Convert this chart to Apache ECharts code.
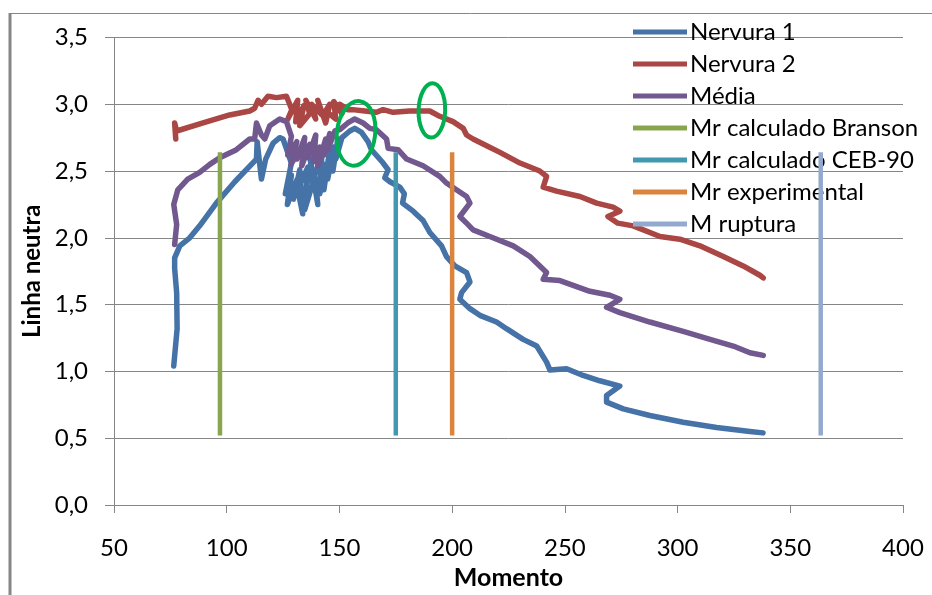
<!DOCTYPE html>
<html>
<head>
<meta charset="utf-8">
<script src="https://cdn.jsdelivr.net/npm/echarts@6/dist/echarts.min.js"></script>
<style>
  html, body { margin: 0; padding: 0; background: #fff; }
  #chart { width: 932px; height: 595px; }
</style>
</head>
<body>
<div id="chart"></div>
<script>
// Momento (x) vs Linha neutra (y) for each rib and their mean
const nervura1 = [
  [76.5,1.04],[78.0,1.32],[77.8,1.59],[76.9,1.77],[76.9,1.85],[79.2,1.94],[83.6,2.00],
  [88.0,2.09],[95.4,2.26],[103.6,2.42],[113.2,2.59],[113.5,2.72],[115.4,2.44],[117.3,2.59],
  [120.6,2.71],[123.5,2.75],[125.0,2.74],[128.7,2.56],
  [126.0,2.33],[128.7,2.47],[126.9,2.25],[131.3,2.44],[129.6,2.29],[132.4,2.51],[133.7,2.18],
  [131.5,2.36],[136.0,2.53],[134.6,2.21],[138.0,2.40],[137.1,2.59],[140.4,2.25],[139.1,2.47],
  [142.2,2.62],[141.3,2.33],[143.9,2.55],[143.1,2.36],[145.7,2.66],[144.8,2.44],[147.5,2.68],
  [147.1,2.50],[149.3,2.74],[148.4,2.59],[151.1,2.75],[154.6,2.80],[156.8,2.82],
  [159.8,2.79],[162.7,2.72],[164.2,2.66],[169.4,2.56],[171.6,2.51],
  [170.1,2.45],[172.4,2.42],[176.8,2.38],[177.5,2.39],[178.8,2.33],[178.0,2.26],[182.7,2.20],
  [187.1,2.13],[190.1,2.04],[195.3,1.94],[197.5,1.86],[201.2,1.79],[206.4,1.74],[207.9,1.67],
  [204.2,1.59],[203.4,1.54],[207.9,1.47],[212.3,1.42],[219.7,1.37],[224.1,1.32],[231.5,1.24],
  [237.5,1.19],[241.9,1.07],[243.4,1.01],[250.8,1.02],[258.1,0.97],[265.5,0.93],[274.4,0.89],
  [268.5,0.82],[268.5,0.77],[275.9,0.72],[287.7,0.67],[302.5,0.62],[317.3,0.58],[332.1,0.55],
  [337.9,0.54]
];
const nervura2 = [
  [77.4,2.74],[76.9,2.86],[77.8,2.80],[89.5,2.86],[101.3,2.92],[110.2,2.95],[112.4,2.97],
  [113.9,3.03],[115.4,3.00],[118.3,3.06],[122.1,3.05],[126.5,3.06],
  [128.9,2.96],[127.1,2.89],[131.5,3.03],[130.6,2.87],[134.2,2.99],[132.4,2.84],[136.8,2.93],
  [135.1,3.03],[139.5,2.89],[137.7,3.00],[142.2,2.92],[140.4,3.03],[143.9,2.86],[145.7,3.00],
  [143.9,2.95],[148.4,2.89],[147.5,3.02],[151.1,2.93],[150.2,3.00],[153.7,2.96],[155.9,2.96],
  [161.3,2.95],[166.4,2.94],[169.4,2.96],
  [173.8,2.94],[181.2,2.95],[190.1,2.95],[194.5,2.91],[200.4,2.87],[204.9,2.82],[206.4,2.77],
  [209.3,2.74],[215.3,2.69],[221.2,2.64],[230.1,2.56],[238.9,2.50],[241.9,2.46],[240.4,2.38],
  [246.3,2.35],[256.7,2.31],[264.1,2.26],[271.4,2.23],[274.4,2.20],[269.1,2.16],[273.5,2.11],
  [280.3,2.09],[292.2,2.01],[301.0,1.99],[309.9,1.94],[320.3,1.86],[329.1,1.79],[336.5,1.72],
  [338.0,1.70]
];
const media = [
  [76.9,1.95],[77.8,2.10],[76.5,2.25],[78.3,2.36],[82.7,2.44],[88.0,2.49],[92.5,2.55],
  [96.9,2.60],[104.3,2.66],[110.2,2.74],[112.4,2.74],[113.2,2.86],[115.4,2.77],[116.9,2.74],
  [119.1,2.84],[123.5,2.89],[126.5,2.87],[128.7,2.76],
  [127.1,2.62],[131.1,2.72],[128.5,2.55],[132.4,2.66],[131.1,2.59],[134.6,2.75],[133.3,2.54],
  [136.8,2.70],[136.0,2.60],[139.5,2.77],[138.6,2.57],[141.3,2.68],[140.4,2.54],[143.9,2.74],
  [143.1,2.62],[145.7,2.78],[144.8,2.66],[148.0,2.80],[150.2,2.81],
  [153.7,2.86],[156.8,2.89],[160.5,2.86],[163.5,2.82],[166.4,2.81],[170.9,2.74],
  [171.6,2.67],[176.0,2.66],[179.8,2.59],[187.1,2.54],[194.5,2.46],[197.5,2.41],[201.9,2.36],
  [206.4,2.31],[207.9,2.26],[203.4,2.16],[206.4,2.11],[209.3,2.06],[216.7,2.01],[227.1,1.94],
  [234.5,1.86],[241.9,1.74],[240.4,1.69],[247.8,1.68],[261.1,1.60],[270.0,1.57],[274.4,1.54],
  [268.5,1.48],[274.4,1.44],[287.7,1.37],[302.5,1.30],[314.4,1.24],[324.7,1.19],[332.1,1.14],
  [338.0,1.12]
];

// Reference moments drawn as vertical bars
const mrBranson = 97;
const mrCEB90 = 175;
const mrExperimental = 200;
const mRuptura = 363.5;
const barBottom = 0.52;
const barTop = 2.64;

// Highlighted regions: [centre momento, centre linha, half-width, half-height, tilt]
const highlights = [
  [157.35, 2.782, 8.5, 0.243, -0.12],
  [191.0, 2.954, 5.9, 0.203, -0.03]
];

const xTicks = { min: 50, max: 400, step: 50 };
const yTicks = { min: 0, max: 3.5, step: 0.5 };

const FONT = 'Lato';
const GRID = '#868686';

function vbar(m) { return [[m, barBottom], [m, barTop]]; }

function curve(name, data, color) {
  return {
    name, type: 'line', data, showSymbol: false, symbol: 'none',
    lineStyle: { color, width: 5.5, cap: 'round', join: 'round' },
    itemStyle: { color }, animation: false, z: 2
  };
}
function bar(name, m, color, z) {
  return {
    name, type: 'line', data: vbar(m), showSymbol: false, symbol: 'none',
    lineStyle: { color, width: 4.5, cap: 'butt' },
    itemStyle: { color }, animation: false, z: z || 3
  };
}

const chart = echarts.init(document.getElementById('chart'), null, { renderer: 'canvas' });
chart.setOption({
  backgroundColor: '#fff',
  animation: false,
  textStyle: { fontFamily: FONT },
  grid: { left: 114, right: 29, top: 37.5, bottom: 89, containLabel: false },
  graphic: [
    { type: 'line', shape: { x1: 10, y1: 13, x2: 10, y2: 595 }, style: { stroke: GRID, lineWidth: 3 }, silent: true },
    { type: 'line', shape: { x1: 9, y1: 13.5, x2: 932, y2: 13.5 }, style: { stroke: GRID, lineWidth: 1 }, silent: true }
  ],
  xAxis: {
    type: 'value', min: xTicks.min, max: xTicks.max, interval: xTicks.step,
    name: 'Momento', nameLocation: 'middle', nameGap: 60,
    nameTextStyle: { fontFamily: FONT, fontSize: 25, fontWeight: 'bold', color: '#000' },
    axisLine: { show: true, lineStyle: { color: GRID, width: 1 } },
    axisTick: { show: true, inside: false, length: 8, lineStyle: { color: GRID } },
    axisLabel: { fontFamily: FONT, fontSize: 24, color: '#000', margin: 31 },
    splitLine: { show: false }
  },
  yAxis: {
    type: 'value', min: yTicks.min, max: yTicks.max, interval: yTicks.step,
    name: 'Linha neutra', nameLocation: 'middle', nameGap: 68, nameRotate: 90,
    nameTextStyle: { fontFamily: FONT, fontSize: 24, fontWeight: 'bold', color: '#000' },
    axisLine: { show: true, lineStyle: { color: GRID, width: 1 } },
    axisTick: { show: true, inside: false, length: 9, lineStyle: { color: GRID } },
    axisLabel: {
      fontFamily: FONT, fontSize: 24, color: '#000', margin: 26,
      formatter: v => v.toFixed(1).replace('.', ',')
    },
    splitLine: { show: true, lineStyle: { color: GRID, width: 1 } }
  },
  legend: {
    orient: 'vertical', left: 633, top: 20, padding: 0,
    itemWidth: 54, itemHeight: 5, itemGap: 8, icon: 'rect',
    textStyle: { fontFamily: FONT, fontSize: 24, color: '#000', lineHeight: 24, padding: [0, 0, 0, -2] },
    data: ['Nervura 1', 'Nervura 2', 'Média', 'Mr calculado Branson',
           'Mr calculado CEB-90', 'Mr experimental', 'M ruptura']
  },
  series: [
    curve('Nervura 1', nervura1, '#4572A7'),
    curve('Nervura 2', nervura2, '#AA4643'),
    curve('Média', media, '#71588F'),
    bar('Mr calculado Branson', mrBranson, '#89A54E'),
    bar('Mr calculado CEB-90', mrCEB90, '#4198AF'),
    bar('Mr experimental', mrExperimental, '#DB843D'),
    bar('M ruptura', mRuptura, '#93A9CF', 6),
    {
      type: 'custom', name: 'destaque', data: highlights, animation: false, z: 7, silent: true,
      renderItem: (params, api) => {
        const c = api.coord([api.value(0), api.value(1)]);
        const s = api.size([api.value(2), api.value(3)]);
        return {
          type: 'ellipse',
          x: c[0], y: c[1], rotation: api.value(4),
          shape: { cx: 0, cy: 0, rx: s[0], ry: s[1] },
          style: { fill: 'none', stroke: '#00B050', lineWidth: 4 }
        };
      }
    }
  ]
});
</script>
</body>
</html>
